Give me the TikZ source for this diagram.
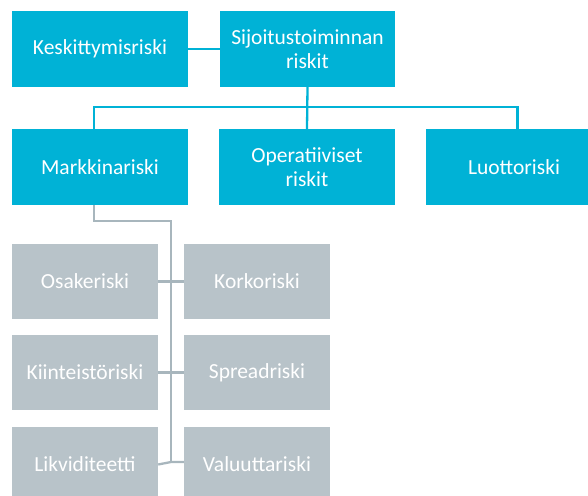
\documentclass[tikz,border=0pt]{standalone}
\usepackage{fontspec}
\setmainfont{Carlito}
\definecolor{bluebox}{HTML}{00B2D6}
\definecolor{greybox}{HTML}{B8C3C9}
\definecolor{greyline}{HTML}{A8B6BD}
\begin{document}
\begin{tikzpicture}[x=1pt,y=-1pt,
  bbox/.style={fill=bluebox,draw=none,text=white,align=center,font=\fontsize{21.5}{24.5}\selectfont,inner sep=0pt},
  gbox/.style={fill=greybox,draw=none,text=white,align=center,font=\fontsize{21.5}{24.5}\selectfont,inner sep=0pt},
  bline/.style={draw=bluebox,line width=2.3pt},
  gline/.style={draw=greyline,line width=2.3pt}]
\useasboundingbox (0,0) rectangle (588,495);
% blue boxes
\node[bbox,minimum width=176pt,minimum height=76pt] (kes) at (100,49) {Keskittymisriski};
\node[bbox,minimum width=175pt,minimum height=76pt] (sij) at (307.5,49) {Sijoitustoiminnan\\riskit};
\node[bbox,minimum width=176pt,minimum height=76pt] (mar) at (100,167) {Markkinariski};
\node[bbox,minimum width=176pt,minimum height=76pt] (ope) at (307,167) {Operatiiviset\\riskit};
\node[bbox,minimum width=176pt,minimum height=76pt] (luo) at (514,167) {Luottoriski};
% grey boxes
\node[gbox,minimum width=146pt,minimum height=75pt] (osa) at (85,281.5) {Osakeriski};
\node[gbox,minimum width=146pt,minimum height=75pt] (kor) at (257,281.5) {Korkoriski};
\node[gbox,minimum width=146pt,minimum height=75pt] (kii) at (85,372.5) {Kiinteistöriski};
\node[gbox,minimum width=146pt,minimum height=75pt] (spr) at (257,372.5) {Spreadriski};
\node[gbox,minimum width=146pt,minimum height=75pt] (lik) at (85,464.5) {Likviditeetti};
\node[gbox,minimum width=146pt,minimum height=75pt] (val) at (257,464.5) {Valuuttariski};
% blue connectors
\coordinate (hl) at (94,107);
\coordinate (hr) at (517.5,107);
\draw[bline] (kes.east) -- (sij.west);
\draw[bline] (sij.south) -- (ope.north);
\draw[bline] (hl |- mar.north) -- (hl) -- (hr) -- (hr |- luo.north);
% grey connectors
\coordinate (gl) at (94,221);
\coordinate (gx) at (171,221);
\coordinate (gend) at (171,462);
\draw[gline] (gl |- mar.south) -- (gl) -- (gx) -- (gend);
\draw[gline] (osa.east) -- (kor.west);
\draw[gline] (kii.east) -- (spr.west);
\draw[gline] (lik.east) -- (gend) -- (val.west |- gend);
\end{tikzpicture}
\end{document}
